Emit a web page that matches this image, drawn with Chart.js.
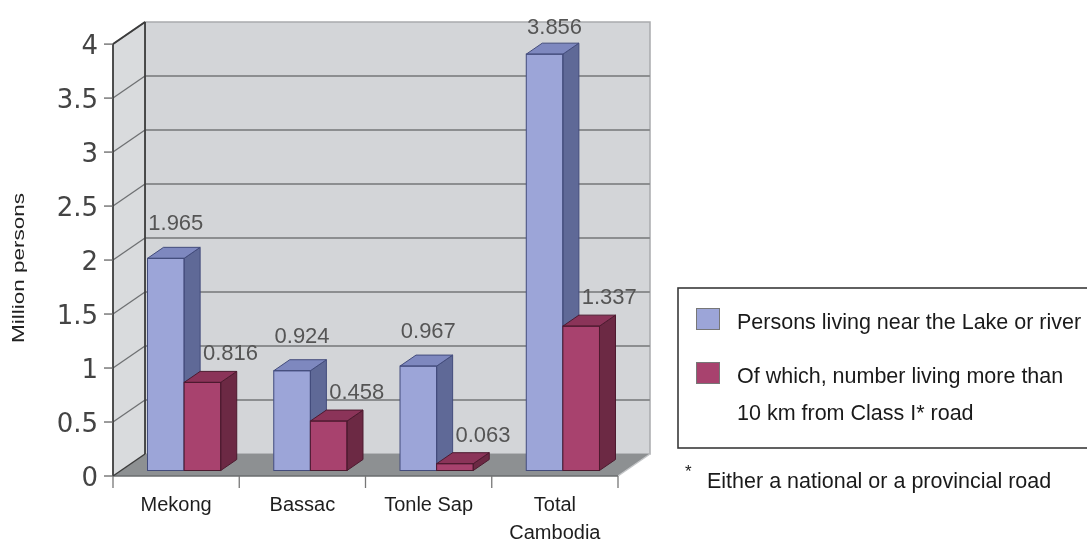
<!DOCTYPE html>
<html><head><meta charset="utf-8">
<script src="https://cdn.jsdelivr.net/npm/chart.js@4"></script>
<style>html,body{margin:0;padding:0;background:#fff;}#wrap{position:relative;width:1087px;height:542px;}</style>
</head><body><div id="wrap"><canvas id="c" width="1087" height="542"></canvas></div>
<script>
const categories = ["Mekong", "Bassac", "Tonle Sap", ["Total", "Cambodia"]];
const nearRiver = [1.965, 0.924, 0.967, 3.856];
const farFromRoad = [0.816, 0.458, 0.063, 1.337];
const seriesNames = [["Persons living near the Lake or river"], ["Of which, number living more than", "10 km from Class I* road"]];
const yTicks = [0, 0.5, 1, 1.5, 2, 2.5, 3, 3.5, 4];
const yTitle = "Million persons";
const footnote = "Either a national or a provincial road";

const D = {x: 32, y: -22};
const BAR_FRONT = 0.25, BAR_BACK = 0.75;
const faceColors = [
  {front: '#9ca5d8', side: '#5f6997', top: '#7e88bf', border: '#434c7c'},
  {front: '#a8426e', side: '#6c2944', top: '#8b3459', border: '#4d1a2f'}
];
function P(x, y, depth) { return [x + (depth - BAR_FRONT) * D.x, y + (depth - BAR_FRONT) * D.y]; }
function poly(ctx, pts, fill, stroke, lw) {
  ctx.beginPath(); ctx.moveTo(pts[0][0], pts[0][1]);
  for (let i = 1; i < pts.length; i++) ctx.lineTo(pts[i][0], pts[i][1]);
  ctx.closePath();
  if (fill) { ctx.fillStyle = fill; ctx.fill(); }
  if (stroke) { ctx.strokeStyle = stroke; ctx.lineWidth = lw || 1; ctx.stroke(); }
}
function line(ctx, a, b, color, lw) {
  ctx.beginPath(); ctx.moveTo(a[0], a[1]); ctx.lineTo(b[0], b[1]);
  ctx.strokeStyle = color; ctx.lineWidth = lw; ctx.stroke();
}

const box3d = {
  id: 'box3d',
  beforeDatasetsDraw(chart) {
    const ctx = chart.ctx, xs = chart.scales.x, ys = chart.scales.y;
    const L = chart.chartArea.left, R = chart.chartArea.right;
    const y0 = ys.getPixelForValue(0), yTop = ys.getPixelForValue(yTicks[yTicks.length - 1]);
    ctx.save();
    // back wall
    poly(ctx, [P(L, y0, 1), P(L, yTop, 1), P(R, yTop, 1), P(R, y0, 1)], '#d3d5d8', '#a9abad', 1.5);
    // left wall
    poly(ctx, [P(L, y0, 0), P(L, yTop, 0), P(L, yTop, 1), P(L, y0, 1)], '#d9dbdd', null);
    // gridlines
    yTicks.forEach(v => {
      if (v === 0) return;
      const yy = ys.getPixelForValue(v);
      if (v !== yTicks[yTicks.length - 1]) line(ctx, P(L, yy, 1), P(R, yy, 1), '#8c8e90', 2);
      line(ctx, P(L, yy, 0), P(L, yy, 1), '#6e7072', 1.3);
    });
    // floor
    poly(ctx, [P(L, y0, 0), P(R, y0, 0), P(R, y0, 1), P(L, y0, 1)], '#8d9092', null);
    line(ctx, P(R, y0, 0), P(R, y0, 1), '#c4c6c8', 1.5);
    line(ctx, P(L, y0, 0), P(R, y0, 0), '#6a6c6e', 1.5);
    // left wall edges
    line(ctx, P(L, y0, 0), P(L, yTop, 0), '#3c3c3c', 1.8);
    line(ctx, P(L, y0, 1), P(L, yTop, 1), '#3c3c3c', 1.8);
    line(ctx, P(L, yTop, 0), P(L, yTop, 1), '#3c3c3c', 1.8);
    line(ctx, P(L, y0, 0), P(L, y0, 1), '#3c3c3c', 1.5);
    // y tick marks
    yTicks.forEach(v => {
      const p = P(L, ys.getPixelForValue(v), 0);
      line(ctx, [p[0] - 9, p[1]], p, '#666', 1.3);
    });
    // x tick marks at category boundaries
    for (let i = 0; i <= categories.length; i++) {
      const p = P(xs.getPixelForValue(i - 0.5), y0, 0);
      line(ctx, p, [p[0], p[1] + 12], '#777', 1.3);
    }
    ctx.restore();
  },
  afterDatasetsDraw(chart) {
    const ctx = chart.ctx;
    const dx = (BAR_BACK - BAR_FRONT) * D.x, dy = (BAR_BACK - BAR_FRONT) * D.y;
    ctx.save();
    const metas = [chart.getDatasetMeta(0), chart.getDatasetMeta(1)];
    for (let i = 0; i < categories.length; i++) {
      metas.forEach((meta, di) => {
        const el = meta.data[i];
        const c = faceColors[di];
        const l = el.x - el.width / 2, r = el.x + el.width / 2;
        el.draw(ctx);
        poly(ctx, [[r, el.y], [r + dx, el.y + dy], [r + dx, el.base + dy], [r, el.base]], c.side, c.border, 1);
        poly(ctx, [[l, el.y], [l + dx, el.y + dy], [r + dx, el.y + dy], [r, el.y]], c.top, c.border, 1);
        ctx.strokeStyle = c.border; ctx.lineWidth = 1;
        ctx.strokeRect(l, el.y, r - l, el.base - el.y);
      });
    }
    // data labels
    ctx.font = '22px "Liberation Sans", Arial, sans-serif';
    ctx.fillStyle = '#555';
    ctx.textAlign = 'center'; ctx.textBaseline = 'middle';
    const offs = [{x: 10, y: 34}, {x: 28, y: 28}];
    metas.forEach((meta, di) => {
      const data = chart.data.datasets[di].data;
      meta.data.forEach((el, i) => {
        const ty = Math.max(el.y - offs[di].y, 28);
        ctx.fillText(String(data[i]), el.x + offs[di].x, ty);
      });
    });
    ctx.restore();
  },
  afterDraw(chart) {
    const ctx = chart.ctx;
    ctx.save();
    // y title
    ctx.translate(19, 268);
    ctx.rotate(-Math.PI / 2);
    ctx.font = '17px "Liberation Sans", Arial, sans-serif';
    const w = ctx.measureText(yTitle).width;
    ctx.scale(150 / w, 1);
    ctx.fillStyle = '#222'; ctx.textAlign = 'center'; ctx.textBaseline = 'middle';
    ctx.fillText(yTitle, 0, 0);
    ctx.restore();
    // legend
    ctx.save();
    ctx.strokeStyle = '#3a3a3a'; ctx.lineWidth = 1.6;
    ctx.strokeRect(678, 288, 430, 160);
    const sw = [{y: 308}, {y: 362}];
    const lineYs = [[323], [377, 414]];
    ctx.font = '21.5px "Liberation Sans", Arial, sans-serif';
    ctx.textAlign = 'left'; ctx.textBaseline = 'middle';
    seriesNames.forEach((nm, k) => {
      ctx.fillStyle = faceColors[k].front;
      ctx.fillRect(696, sw[k].y, 24, 22);
      ctx.strokeStyle = '#777'; ctx.lineWidth = 1;
      ctx.strokeRect(696.5, sw[k].y + 0.5, 23, 21);
      ctx.fillStyle = '#1a1a1a';
      nm.forEach((t, j) => ctx.fillText(t, 737, lineYs[k][j]));
    });
    // footnote
    ctx.font = '17px "Liberation Sans", Arial, sans-serif';
    ctx.fillText('*', 685, 472);
    ctx.font = '21.5px "Liberation Sans", Arial, sans-serif';
    ctx.fillText(footnote, 707, 482);
    ctx.restore();
  }
};

new Chart(document.getElementById('c'), {
  type: 'bar',
  data: {
    labels: categories,
    datasets: [
      {label: seriesNames[0].join(' '), data: nearRiver, backgroundColor: faceColors[0].front, borderColor: faceColors[0].border, borderWidth: 0, categoryPercentage: 0.58, barPercentage: 1, clip: false},
      {label: seriesNames[1].join(' '), data: farFromRoad, backgroundColor: faceColors[1].front, borderColor: faceColors[1].border, borderWidth: 0, categoryPercentage: 0.58, barPercentage: 1, clip: false}
    ]
  },
  options: {
    responsive: false,
    animation: false,
    devicePixelRatio: 1,
    layout: {padding: {top: 33, right: 461, left: 0, bottom: 0}},
    plugins: {legend: {display: false}, tooltip: {enabled: false}, title: {display: false}},
    scales: {
      x: {
        grid: {display: false, drawTicks: false},
        border: {display: false},
        ticks: {font: {family: 'Liberation Sans', size: 20, lineHeight: 1.4}, color: '#1e1e1e', labelOffset: -8, padding: 21, maxRotation: 0, autoSkip: false},
        afterFit: s => { s.height = 71.5; }
      },
      y: {
        min: 0, max: 4,
        grid: {display: false, drawTicks: false},
        border: {display: false},
        afterBuildTicks: s => { s.ticks = yTicks.map(v => ({value: v})); },
        ticks: {font: {family: 'DejaVu Sans', size: 26}, color: '#444', padding: 23, labelOffset: 9, callback: v => String(v)},
        afterFit: s => { s.width = 121; }
      }
    }
  },
  plugins: [box3d]
});
</script></body></html>
